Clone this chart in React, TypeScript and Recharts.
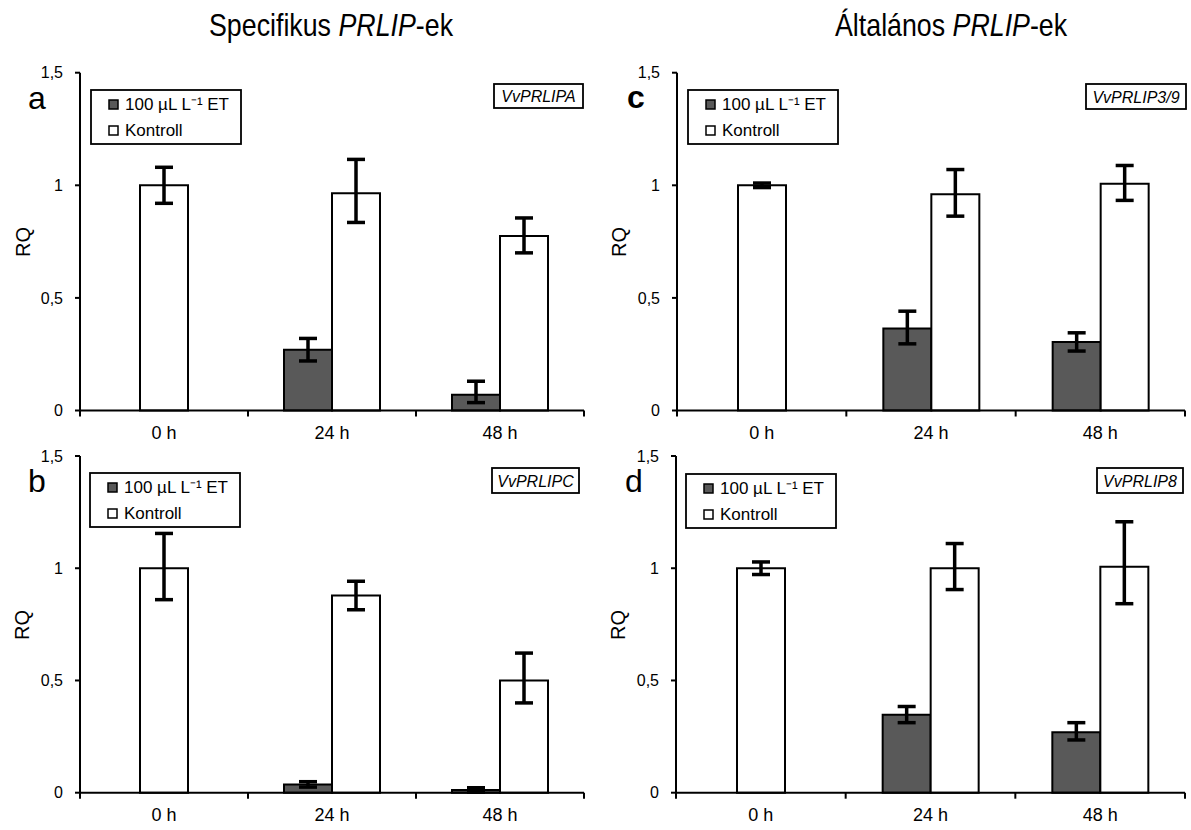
import React from 'react';
import { BarChart, Bar, XAxis, YAxis, ErrorBar } from 'recharts';

const FONT = "'Liberation Sans', Arial, Helvetica, sans-serif";

// ---- shared labels ----
const categories = ['0 h', '24 h', '48 h'];
const seriesNames = ['100 µL L⁻¹ ET', 'Kontroll'];
const yTicks = [0, 0.5, 1, 1.5];
const columnTitles = ['Specifikus', 'Általános'];
const geneNames = ['VvPRLIPA', 'VvPRLIPC', 'VvPRLIP3/9', 'VvPRLIP8'];
const panelLetters = ['a', 'b', 'c', 'd'];

// ---- panel a: VvPRLIPA ----
const etA = [null, 0.27, 0.07];
const etErrA = [null, [0.05, 0.05], [0.035, 0.06]];
const kA = [1.0, 0.965, 0.775];
const kErrA = [[0.08, 0.08], [0.13, 0.15], [0.075, 0.08]];

// ---- panel b: VvPRLIPC ----
const etB = [null, 0.037, 0.012];
const etErrB = [null, [0.012, 0.012], [0.01, 0.01]];
const kB = [1.0, 0.878, 0.5];
const kErrB = [[0.14, 0.155], [0.063, 0.064], [0.1, 0.122]];

// ---- panel c: VvPRLIP3/9 ----
const etC = [null, 0.364, 0.304];
const etErrC = [null, [0.068, 0.077], [0.04, 0.041]];
const kC = [1.0, 0.96, 1.007];
const kErrC = [[0.01, 0.01], [0.097, 0.11], [0.074, 0.081]];

// ---- panel d: VvPRLIP8 ----
const etD = [null, 0.347, 0.269];
const etErrD = [null, [0.035, 0.037], [0.034, 0.043]];
const kD = [1.0, 1.0, 1.007];
const kErrD = [[0.028, 0.028], [0.095, 0.11], [0.165, 0.2]];

const ET_FILL = '#595959';
const K_FILL = '#ffffff';

const X_TICK_SIZE = 6;
const X_TICK_MARGIN = 10;

function buildRows(et, etErr, k, kErr) {
  return categories.map((cat, i) => {
    const single = et[i] == null;
    return {
      cat,
      et: et[i],
      etErr: etErr[i],
      k: single ? null : k[i],
      kErr: single ? null : kErr[i],
      kc: single ? k[i] : null,
      kcErr: single ? kErr[i] : null,
    };
  });
}

// category label plus tick marks on the category boundaries (Excel style)
function BoundaryTick(props) {
  const { x, y, payload, index } = props;
  const half = payload && payload.offset ? payload.offset : 0;
  const axisY = y - X_TICK_SIZE - X_TICK_MARGIN;
  const isLast = index === categories.length - 1;
  return (
    <g>
      <line x1={x - half} x2={x - half} y1={axisY} y2={axisY + X_TICK_SIZE} stroke="#000" strokeWidth={2} />
      {isLast && <line x1={x + half} x2={x + half} y1={axisY} y2={axisY + X_TICK_SIZE} stroke="#000" strokeWidth={2} />}
      <text x={x} y={y} dy="0.71em" textAnchor="middle" fontSize={18} fontFamily={FONT} fill="#000">
        {payload.value}
      </text>
    </g>
  );
}

const fmt = (v) => String(v).replace('.', ',');

function Panel({ left, top, width, height, margin, rows }) {
  const barProps = { barSize: 48, stroke: '#000', strokeWidth: 2, isAnimationActive: false };
  const errProps = { width: 9, strokeWidth: 3.5, stroke: '#000', direction: 'y' };
  return (
    <div style={{ position: 'absolute', left, top }}>
      <BarChart width={width} height={height} data={rows} margin={margin} barGap={0}>
        <XAxis
          xAxisId="main"
          dataKey="cat"
          height={30}
          axisLine={{ stroke: '#000', strokeWidth: 2 }}
          tickLine={false}
          tickSize={X_TICK_SIZE}
          tickMargin={X_TICK_MARGIN}
          interval={0}
          tick={<BoundaryTick />}
        />
        <YAxis
          domain={[0, 1.5]}
          ticks={yTicks}
          width={60}
          interval={0}
          tickFormatter={fmt}
          axisLine={{ stroke: '#000', strokeWidth: 2 }}
          tickLine={{ stroke: '#000', strokeWidth: 2 }}
          tickSize={5}
          tickMargin={12}
          tick={{ fontSize: 16, fill: '#000', fontFamily: FONT }}
        />
        <XAxis xAxisId="center" dataKey="cat" hide height={0} />
        <Bar xAxisId="main" dataKey="et" name={seriesNames[0]} fill={ET_FILL} {...barProps}>
          <ErrorBar dataKey="etErr" {...errProps} />
        </Bar>
        <Bar xAxisId="main" dataKey="k" name={seriesNames[1]} fill={K_FILL} {...barProps}>
          <ErrorBar dataKey="kErr" {...errProps} />
        </Bar>
        <Bar xAxisId="center" dataKey="kc" name={seriesNames[1]} fill={K_FILL} legendType="none" {...barProps}>
          <ErrorBar dataKey="kcErr" {...errProps} />
        </Bar>
      </BarChart>
    </div>
  );
}

function LegendBox({ x, y }) {
  const fills = [ET_FILL, K_FILL];
  return (
    <g>
      <rect x={x} y={y} width={150} height={54} fill="#fff" stroke="#000" strokeWidth={1.8} />
      {seriesNames.map((n, i) => (
        <g key={n}>
          <rect x={x + 18} y={y + 10 + i * 26} width={9} height={9} fill={fills[i]} stroke="#000" strokeWidth={1.5} />
          <text x={x + 34} y={y + 20 + i * 26} fontSize={17} fontFamily={FONT} fill="#000">{n}</text>
        </g>
      ))}
    </g>
  );
}

function GeneBox({ x1, y1, x2, y2, name }) {
  return (
    <g>
      <rect x={x1} y={y1} width={x2 - x1} height={y2 - y1} fill="#fff" stroke="#000" strokeWidth={1.8} />
      <text x={(x1 + x2) / 2} y={y2 - 6.5} textAnchor="middle" fontSize={16} fontStyle="italic" fontFamily={FONT} fill="#000">{name}</text>
    </g>
  );
}

export default function App() {
  const panels = [
    { left: 0, top: 40, width: 595, height: 410, margin: { top: 32.7, right: 11, bottom: 9.5, left: 20 }, rows: buildRows(etA, etErrA, kA, kErrA) },
    { left: 0, top: 420, width: 595, height: 410, margin: { top: 36, right: 11, bottom: 7.3, left: 20 }, rows: buildRows(etB, etErrB, kB, kErrB) },
    { left: 595, top: 40, width: 596, height: 410, margin: { top: 32.7, right: 6, bottom: 9.5, left: 22 }, rows: buildRows(etC, etErrC, kC, kErrC) },
    { left: 595, top: 420, width: 596, height: 410, margin: { top: 36, right: 6, bottom: 7.3, left: 21 }, rows: buildRows(etD, etErrD, kD, kErrD) },
  ];
  const legendPos = [
    { x: 91, y: 90 },
    { x: 90, y: 473 },
    { x: 688, y: 90 },
    { x: 686, y: 474 },
  ];
  const genePos = [
    { x1: 494, y1: 84, x2: 583, y2: 108 },
    { x1: 492, y1: 468, x2: 579, y2: 493 },
    { x1: 1086, y1: 84, x2: 1186, y2: 109 },
    { x1: 1097, y1: 468, x2: 1183, y2: 493 },
  ];
  const letterPos = [
    { x: 28, y: 109, bold: false },
    { x: 28, y: 492, bold: false },
    { x: 627, y: 108, bold: true },
    { x: 625, y: 492, bold: false },
  ];
  const rqPos = [
    { x: 23, y: 242 },
    { x: 22, y: 625 },
    { x: 619, y: 242 },
    { x: 618, y: 625 },
  ];
  return (
    <div style={{ position: 'absolute', left: 0, top: 0, width: 1191, height: 830, overflow: 'hidden', background: '#fff' }}>
      {panels.map((p, i) => (
        <Panel key={i} {...p} />
      ))}
      <svg width={1191} height={830} style={{ position: 'absolute', left: 0, top: 0, pointerEvents: 'none' }}>
        <text transform="translate(209,36) scale(0.864,1)" fontSize={31} fontFamily={FONT} fill="#000">
          {columnTitles[0]} <tspan fontStyle="italic">PRLIP</tspan>-ek
        </text>
        <text transform="translate(835,36) scale(0.864,1)" fontSize={31} fontFamily={FONT} fill="#000">
          {columnTitles[1]} <tspan fontStyle="italic">PRLIP</tspan>-ek
        </text>
        {legendPos.map((l, i) => (
          <LegendBox key={'l' + i} x={l.x} y={l.y} />
        ))}
        {genePos.map((g, i) => (
          <GeneBox key={'g' + i} {...g} name={geneNames[i]} />
        ))}
        {letterPos.map((l, i) => (
          <text key={'t' + i} x={l.x} y={l.y} fontSize={32} fontWeight={l.bold ? 'bold' : 'normal'} fontFamily={FONT} fill="#000">
            {panelLetters[i]}
          </text>
        ))}
        {rqPos.map((r, i) => (
          <text key={'r' + i} transform={`translate(${r.x},${r.y}) rotate(-90)`} textAnchor="middle" dominantBaseline="central" fontSize={20} fontFamily={FONT} fill="#000">
            RQ
          </text>
        ))}
      </svg>
    </div>
  );
}
